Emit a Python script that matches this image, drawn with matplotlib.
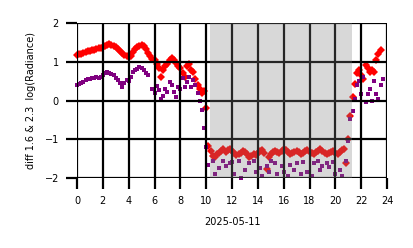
import numpy as np
import matplotlib
matplotlib.use("Agg")
import matplotlib.pyplot as plt

nan = np.nan
# sample times: every 10 minutes over the day (hours)
hours = np.arange(144) / 6.0

red_vals = [
    1.17, 1.19, 1.20, 1.22, 1.25, 1.27,
    1.29, 1.30, 1.31, 1.33, 1.35, 1.36,
    1.38, 1.40, 1.44, 1.47, 1.44, 1.42,
    1.38, 1.32, 1.28, 1.22, 1.17, 1.14,
    1.12, 1.15, 1.25, 1.33, 1.38, 1.42,
    1.44, 1.40, 1.32, 1.24, 1.15, 1.08,
    1.05, 0.95, 0.85, 0.62, 0.80, 0.88,
    0.95, 1.05, 1.10, 1.05, 0.98, 0.90,
    0.85, 0.70, 0.62, 0.90, 0.95, 0.80,
    0.75, 0.55, 0.40, 0.30, 0.20, 0.25,
    -0.18, -1.17, -1.30, -1.42, -1.45, -1.38,
    -1.35, -1.30, -1.26, -1.33, -1.28, -1.25,
    -1.30, -1.36, -1.40, -1.38, -1.35, -1.30,
    -1.33, -1.38, -1.45, -1.42, -1.38, -1.40,
    -1.36, -1.30, -1.27, -1.35, -1.77, -1.45,
    -1.38, -1.32, -1.30, -1.33, -1.36, -1.30,
    -1.25, -1.28, -1.33, -1.38, -1.36, -1.32,
    -1.30, -1.33, -1.37, -1.35, -1.30, -1.28,
    -1.32, -1.36, -1.38, -1.34, -1.30, -1.25,
    -1.30, -1.35, -1.38, -1.36, -1.33, -1.30,
    -1.35, -1.38, -1.33, -1.28, -1.25, -1.60,
    -1.00, -0.39, 0.09, 0.43, 0.70, 0.80,
    0.65, 0.56, 0.91, 0.85, 0.74, 0.80,
    0.74, 1.04, 1.21, 1.30, nan, nan,
]

purple_vals = [
    0.39, 0.42, 0.45, 0.48, 0.52, 0.55,
    0.55, 0.57, 0.58, 0.60, 0.58, 0.62,
    0.65, 0.70, 0.74, 0.72, 0.69, 0.65,
    0.58, 0.53, 0.45, 0.35, 0.45, 0.52,
    0.50, 0.60, 0.75, 0.78, 0.82, 0.87,
    0.85, 0.80, 0.72, 0.65, nan, 0.30,
    0.20, 0.38, 0.26, 0.05, 0.13, 0.30,
    0.22, 0.48, 0.40, 0.22, 0.10, 0.35,
    0.30, 0.57, 0.35, 0.48, 0.62, 0.35,
    0.52, 0.40, 0.20, 0.00, -0.25, -0.70,
    -1.20, -1.65, nan, -1.55, -1.90, nan,
    -1.75, nan, -1.55, -1.70, nan, -1.60,
    -1.58, -1.90, nan, -1.55, -2.00, nan,
    -1.80, nan, -1.60, nan, -1.55, -1.85,
    nan, -1.75, -1.95, nan, -1.70, -1.85,
    -1.55, nan, -1.62, -1.90, nan, -1.70,
    -1.85, nan, -1.95, -1.65, nan, -1.80,
    -1.62, nan, -1.90, -1.58, nan, -1.85,
    nan, -1.95, -1.62, nan, -1.55, -1.80,
    -1.68, nan, -1.60, -1.72, nan, -1.58,
    -1.90, nan, -1.80, -1.95, nan, -1.55,
    -1.04, -0.48, -0.26, 0.05, 0.40, 0.50,
    0.17, 0.60, -0.04, 0.17, 0.30, 0.00,
    0.50, 0.17, 0.05, 0.39, 0.56, nan,
]

night_start, night_end = 10.3, 21.25
xticks = list(range(0, 25, 2))
yticks = [-2, -1, 0, 1, 2]

fig = plt.figure(figsize=(4.14, 2.48), dpi=100)
ax = fig.add_axes([0.186, 0.282, 0.749, 0.625])

ax.plot(hours, red_vals, linestyle='none', marker='D', markersize=3.7,
        color='red', markeredgewidth=0, zorder=2, clip_on=False)
ax.plot(hours, purple_vals, linestyle='none', marker='s', markersize=3.0,
        color='purple', markeredgewidth=0, zorder=2, clip_on=False)
ax.axvspan(night_start, night_end, color='gray', alpha=0.3, lw=0, zorder=3)

ax.set_xlim(0, 24)
ax.set_ylim(-2, 2)
ax.set_xticks(xticks)
ax.set_yticks(yticks)
ax.set_yticklabels(['\u22122', '\u22121', '0', '1', '2'])
ax.grid(True, color='black', linewidth=1.6, zorder=4)
ax.set_axisbelow(False)
for s in ax.spines.values():
    s.set_visible(False)
ax.tick_params(axis='both', length=8, width=1.6, labelsize=7, color='black', pad=5)
ax.set_xlabel('2025-05-11', fontsize=7, labelpad=8)
ax.set_ylabel('diff 1.6 & 2.3  log(Radiance)', fontsize=7, labelpad=6)

fig.savefig('out.png', dpi=100)
